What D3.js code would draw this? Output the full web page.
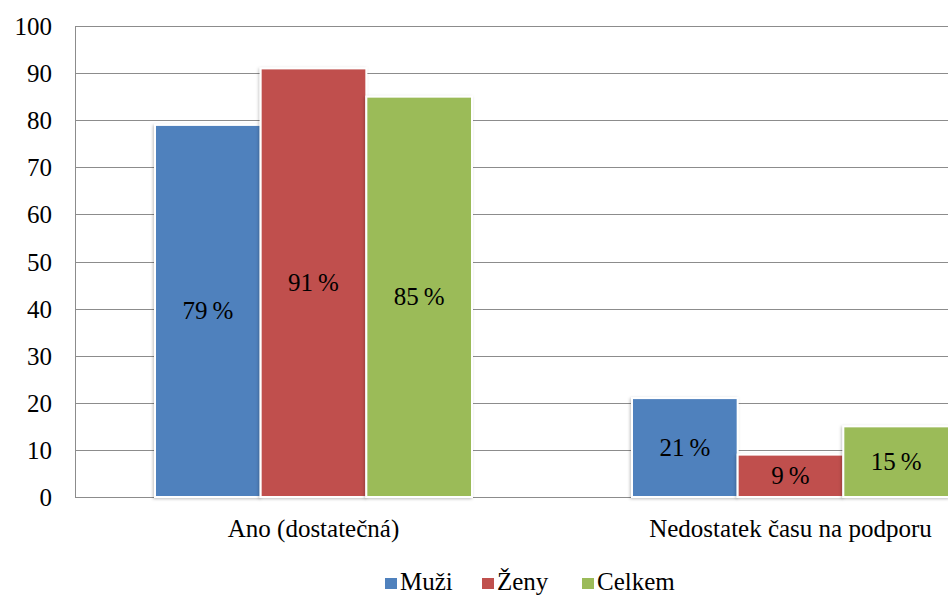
<!DOCTYPE html>
<html>
<head>
<meta charset="utf-8">
<script src="https://cdnjs.cloudflare.com/ajax/libs/d3/7.8.5/d3.min.js"></script>
<style>
  html, body { margin: 0; padding: 0; background: #fff; overflow: hidden; }
  svg { display: block; }
  svg text { font-family: "Liberation Serif", "Tinos", "Times New Roman", "DejaVu Serif", serif; }
</style>
</head>
<body>
<svg id="chart" width="948" height="595"></svg>
<script>
// Categories, series and axis ticks
const categories = ["Ano (dostatečná)", "Nedostatek času na podporu"];
const seriesNames = ["Muži", "Ženy", "Celkem"];
const seriesColors = ["#4F81BD", "#C0504D", "#9BBB59"];
const muzi = [79, 21];
const zeny = [91, 9];
const celkem = [85, 15];
const yTicks = [0, 10, 20, 30, 40, 50, 60, 70, 80, 90, 100];

const seriesValues = [muzi, zeny, celkem];

const svg = d3.select("#chart");
const W = 948, H = 595;

// Plot area continues past the right edge of the canvas
const plot = { left: 75, right: 1029, top: 26, bottom: 497 };

const x0 = d3.scaleBand().domain(categories).range([plot.left, plot.right]).paddingInner(0).paddingOuter(0);
const groupPad = 80;
const x1 = d3.scaleBand().domain(seriesNames)
  .range([0, x0.bandwidth() - 2 * groupPad]).padding(0);
const y = d3.scaleLinear().domain([0, 100]).range([plot.bottom, plot.top]);

const defs = svg.append("defs");
const f = defs.append("filter").attr("id", "shadow")
  .attr("x", "-10%").attr("y", "-10%").attr("width", "120%").attr("height", "120%");
f.append("feDropShadow").attr("dx", -1).attr("dy", 1).attr("stdDeviation", 1.5)
  .attr("flood-color", "#000").attr("flood-opacity", 0.25);

// Gridlines
svg.append("g").selectAll("line").data(yTicks).join("line")
  .attr("x1", plot.left).attr("x2", W)
  .attr("y1", d => Math.round(y(d)) + 0.5).attr("y2", d => Math.round(y(d)) + 0.5)
  .attr("stroke", "#8c8c8c").attr("stroke-width", 1);

// Left axis line
svg.append("line")
  .attr("x1", plot.left + 0.5).attr("x2", plot.left + 0.5)
  .attr("y1", y(100)).attr("y2", y(0))
  .attr("stroke", "#8c8c8c").attr("stroke-width", 1);

// Y tick labels
const yAxis = d3.axisLeft(y).tickValues(yTicks).tickSize(0).tickPadding(0);
const ya = svg.append("g").attr("transform", `translate(52,0)`).call(yAxis)
  .attr("font-family", null).attr("font-size", null);
ya.select(".domain").remove();
ya.selectAll("text")
  .attr("font-size", 25).attr("fill", "#000").attr("dy", "0.34em").attr("x", 0);

// Bars
const groups = svg.append("g").selectAll("g").data(categories).join("g")
  .attr("transform", d => `translate(${x0(d) + groupPad},0)`);

groups.each(function(cat, ci) {
  const g = d3.select(this);
  seriesNames.forEach((s, si) => {
    const v = seriesValues[si][ci];
    g.append("rect")
      .attr("x", x1(s)).attr("width", x1.bandwidth())
      .attr("y", y(v)).attr("height", y(0) - y(v))
      .attr("fill", seriesColors[si])
      .attr("stroke", "#fff").attr("stroke-width", 2)
      .attr("filter", "url(#shadow)");
  });
  seriesNames.forEach((s, si) => {
    const v = seriesValues[si][ci];
    g.append("text")
      .attr("x", x1(s) + x1.bandwidth() / 2)
      .attr("y", (y(v) + y(0)) / 2)
      .attr("dy", "0.34em")
      .attr("text-anchor", "middle")
      .attr("font-size", 25).attr("fill", "#000")
      .text(v + "\u2009%");
  });
});

// Category labels
svg.append("g").selectAll("text").data(categories).join("text")
  .attr("x", d => x0(d) + x0.bandwidth() / 2)
  .attr("y", 537)
  .attr("text-anchor", "middle")
  .attr("font-size", 25).attr("fill", "#000")
  .text(d => d);

// Legend
const legendX = [385, 482, 582];
const lg = svg.append("g").selectAll("g").data(seriesNames).join("g")
  .attr("transform", (d, i) => `translate(${legendX[i]},0)`);
lg.append("rect").attr("x", 0).attr("y", 578).attr("width", 12).attr("height", 11)
  .attr("fill", (d, i) => seriesColors[i]);
lg.append("text").attr("x", 15).attr("y", 590)
  .attr("font-size", 25).attr("fill", "#000").text(d => d);
</script>
</body>
</html>
